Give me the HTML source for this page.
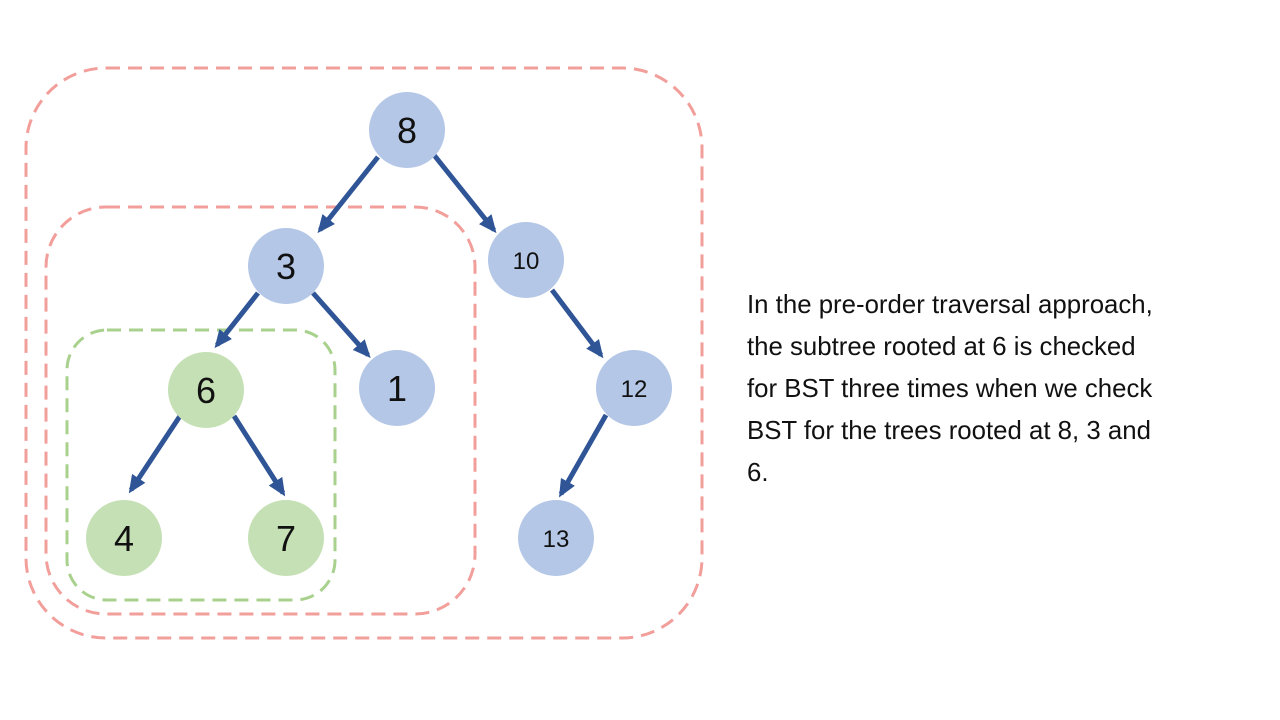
<!DOCTYPE html>
<html><head><meta charset="utf-8"><style>
html,body{margin:0;padding:0;background:#fff;width:1280px;height:720px;overflow:hidden}
svg{position:absolute;left:0;top:0}
.t{position:absolute;left:747px;top:284px;font-family:"Liberation Sans",sans-serif;font-size:25.8px;line-height:42px;color:#111;white-space:nowrap}
</style></head><body>
<svg width="1280" height="720" viewBox="0 0 1280 720">
<defs>
<marker id="b" markerWidth="20" markerHeight="20" refX="14" refY="10" orient="auto" markerUnits="userSpaceOnUse" viewBox="0 0 20 20"><path d="M0,2 L18,10 L0,18 z" fill="#2f5597"/></marker></defs>
<g fill="none" stroke-width="3" stroke-dasharray="14,8">
<rect x="26" y="68" width="676" height="570" rx="80" stroke="#f29f9b"/>
<rect x="46" y="207" width="429" height="407" rx="60" stroke="#f29f9b"/>
<rect x="67" y="330" width="268" height="270" rx="40" stroke="#a9d18e"/>
</g>
<g stroke="#2f5597" stroke-width="5" marker-end="url(#b)">
<line x1="378" y1="157" x2="320" y2="230"/>
<line x1="434" y1="155" x2="494" y2="230"/>
<line x1="258" y1="293" x2="217" y2="345"/>
<line x1="313" y1="293" x2="368" y2="355"/>
<line x1="180" y1="416" x2="131" y2="490"/>
<line x1="234" y1="416" x2="283" y2="493"/>
<line x1="552" y1="290" x2="601" y2="355"/>
<line x1="606" y1="415" x2="561" y2="494"/>
</g>
<g fill="#b4c7e7"><circle cx="407" cy="130" r="38"/><circle cx="286" cy="266" r="38"/><circle cx="526" cy="260" r="38"/><circle cx="397" cy="388" r="38"/><circle cx="634" cy="388" r="38"/><circle cx="556" cy="538" r="38"/></g>
<g fill="#c5e0b4"><circle cx="206" cy="390" r="38"/><circle cx="124" cy="538" r="38"/><circle cx="286" cy="538" r="38"/></g>
<g font-family="Liberation Sans,sans-serif" fill="#111" text-anchor="middle">
<g font-size="36"><text x="407" y="143">8</text><text x="286" y="279">3</text><text x="397" y="401">1</text><text x="206" y="403">6</text><text x="124" y="551">4</text><text x="286" y="551">7</text></g>
<g font-size="24"><text x="526" y="269">10</text><text x="634" y="397">12</text><text x="556" y="547">13</text></g>
</g>
</svg>
<div class="t">In the pre-order traversal approach,<br>the subtree rooted at 6 is checked<br>for BST three times when we check<br>BST for the trees rooted at 8, 3 and<br>6.</div>
</body></html>
